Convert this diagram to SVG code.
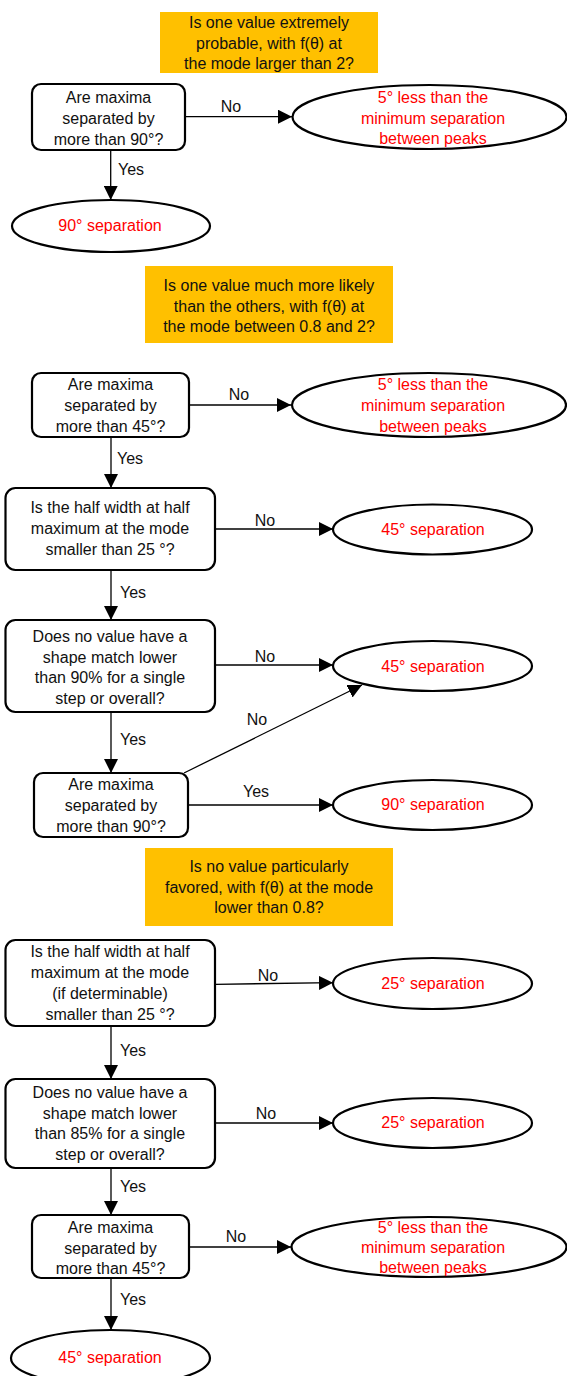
<svg xmlns="http://www.w3.org/2000/svg" width="567" height="1376" viewBox="0 0 567 1376">
<style>
  text { font-family: "Liberation Sans", Arial, sans-serif; font-size: 16px; text-anchor: middle; }
  .q { fill: #111; }
  .r { fill: #ff0000; }
  .lbl { fill: #111; }
  .hdr { fill: #ffc000; stroke: none; }
  .box { fill: #fff; stroke: #000; stroke-width: 2.2; }
  .ell { fill: #fff; stroke: #000; stroke-width: 2.2; }
  .c { fill: none; stroke: #000; stroke-width: 1.3; marker-end: url(#ah); }
</style>
<defs>
  <marker id="ah" markerUnits="userSpaceOnUse" markerWidth="14" markerHeight="14" refX="14" refY="7" orient="auto">
    <path d="M0,0 L14,7 L0,14 Z" fill="#000"/>
  </marker>
</defs>
<rect width="567" height="1376" fill="#fff"/>

<g id="connectors">
  <path class="c" d="M185,116.7 L292,116.7"/>
  <path class="c" d="M110.7,150 L110.7,200"/>
  <path class="c" d="M189,405 L291,405"/>
  <path class="c" d="M111,437 L111,488"/>
  <path class="c" d="M215,529 L333,529"/>
  <path class="c" d="M111,570 L111,620"/>
  <path class="c" d="M215,665 L333,665"/>
  <path class="c" d="M184,773 L362,685"/>
  <path class="c" d="M111,712 L111,773"/>
  <path class="c" d="M188,805 L333,805"/>
  <path class="c" d="M215,984.3 L333,982.7"/>
  <path class="c" d="M111,1026 L111,1079"/>
  <path class="c" d="M215,1123 L333,1123"/>
  <path class="c" d="M111,1168 L111,1215"/>
  <path class="c" d="M189,1247 L291,1247"/>
  <path class="c" d="M111,1278 L111,1330"/>
  <g class="lbl">
    <text x="231" y="112">No</text>
    <text x="131" y="175">Yes</text>
    <text x="239" y="400">No</text>
    <text x="130" y="464">Yes</text>
    <text x="265" y="526">No</text>
    <text x="133" y="598">Yes</text>
    <text x="265" y="662">No</text>
    <text x="257" y="725">No</text>
    <text x="133" y="745">Yes</text>
    <text x="256" y="797">Yes</text>
    <text x="268" y="981">No</text>
    <text x="133" y="1056">Yes</text>
    <text x="266" y="1119">No</text>
    <text x="133" y="1192">Yes</text>
    <text x="236" y="1242">No</text>
    <text x="133" y="1305">Yes</text>
  </g>
</g>

<g id="header1">
  <rect class="hdr" x="160" y="12" width="218" height="61"/>
  <text class="q" x="269" y="28">Is one value extremely</text>
  <text class="q" x="269" y="48.5">probable, with f(θ) at</text>
  <text class="q" x="269" y="69">the mode larger than 2?</text>
</g>
<g id="q1">
  <rect class="box" x="32" y="84" width="153" height="66" rx="9"/>
  <text class="q" x="108.5" y="103">Are maxima</text>
  <text class="q" x="108.5" y="124">separated by</text>
  <text class="q" x="108.5" y="145">more than 90°?</text>
</g>
<g id="r1">
  <ellipse class="ell" cx="429.5" cy="117" rx="137" ry="32"/>
  <text class="r" x="433" y="103">5° less than the</text>
  <text class="r" x="433" y="124">minimum separation</text>
  <text class="r" x="433" y="144">between peaks</text>
</g>
<g id="r2">
  <ellipse class="ell" cx="111" cy="226" rx="99" ry="26"/>
  <text class="r" x="110" y="231">90° separation</text>
</g>

<g id="header2">
  <rect class="hdr" x="145" y="266" width="248" height="77"/>
  <text class="q" x="269" y="291">Is one value much more likely</text>
  <text class="q" x="269" y="312">than the others, with f(θ) at</text>
  <text class="q" x="269" y="332">the mode between 0.8 and 2?</text>
</g>
<g id="q2">
  <rect class="box" x="32" y="373" width="157" height="64" rx="9"/>
  <text class="q" x="110.5" y="390">Are maxima</text>
  <text class="q" x="110.5" y="411">separated by</text>
  <text class="q" x="110.5" y="432">more than 45°?</text>
</g>
<g id="r3">
  <ellipse class="ell" cx="429" cy="405" rx="137" ry="32"/>
  <text class="r" x="433" y="390">5° less than the</text>
  <text class="r" x="433" y="411">minimum separation</text>
  <text class="r" x="433" y="432">between peaks</text>
</g>
<g id="q3">
  <rect class="box" x="5.5" y="488" width="209.5" height="82" rx="10"/>
  <text class="q" x="110" y="513">Is the half width at half</text>
  <text class="q" x="110" y="534">maximum at the mode</text>
  <text class="q" x="110" y="555">smaller than 25 °?</text>
</g>
<g id="r4">
  <ellipse class="ell" cx="432.5" cy="529.5" rx="99.5" ry="25"/>
  <text class="r" x="433" y="535">45° separation</text>
</g>
<g id="q4">
  <rect class="box" x="5.5" y="620" width="209.5" height="92" rx="10"/>
  <text class="q" x="110" y="641.5">Does no value have a</text>
  <text class="q" x="110" y="662.5">shape match lower</text>
  <text class="q" x="110" y="683">than 90% for a single</text>
  <text class="q" x="110" y="703.5">step or overall?</text>
</g>
<g id="r5">
  <ellipse class="ell" cx="432.5" cy="666" rx="99.5" ry="25"/>
  <text class="r" x="433" y="671.5">45° separation</text>
</g>
<g id="q5">
  <rect class="box" x="34" y="773" width="154" height="64" rx="9"/>
  <text class="q" x="111" y="790">Are maxima</text>
  <text class="q" x="111" y="811">separated by</text>
  <text class="q" x="111" y="832">more than 90°?</text>
</g>
<g id="r6">
  <ellipse class="ell" cx="432.5" cy="805" rx="99.5" ry="25"/>
  <text class="r" x="433" y="810">90° separation</text>
</g>

<g id="header3">
  <rect class="hdr" x="145" y="848" width="248" height="78"/>
  <text class="q" x="269" y="872">Is no value particularly</text>
  <text class="q" x="269" y="892.5">favored, with f(θ) at the mode</text>
  <text class="q" x="269" y="913">lower than 0.8?</text>
</g>
<g id="q6">
  <rect class="box" x="5.5" y="940" width="209.5" height="86" rx="10"/>
  <text class="q" x="110" y="957">Is the half width at half</text>
  <text class="q" x="110" y="978">maximum at the mode</text>
  <text class="q" x="110" y="999">(if determinable)</text>
  <text class="q" x="110" y="1020">smaller than 25 °?</text>
</g>
<g id="r7">
  <ellipse class="ell" cx="432.5" cy="983.5" rx="99.5" ry="25.5"/>
  <text class="r" x="433" y="989">25° separation</text>
</g>
<g id="q7">
  <rect class="box" x="5.5" y="1079" width="209.5" height="89" rx="10"/>
  <text class="q" x="110" y="1098">Does no value have a</text>
  <text class="q" x="110" y="1118.5">shape match lower</text>
  <text class="q" x="110" y="1139">than 85% for a single</text>
  <text class="q" x="110" y="1160">step or overall?</text>
</g>
<g id="r8">
  <ellipse class="ell" cx="432.5" cy="1123" rx="99.5" ry="25"/>
  <text class="r" x="433" y="1128">25° separation</text>
</g>
<g id="q8">
  <rect class="box" x="32" y="1215" width="157" height="63" rx="9"/>
  <text class="q" x="110.5" y="1233">Are maxima</text>
  <text class="q" x="110.5" y="1253.5">separated by</text>
  <text class="q" x="110.5" y="1274">more than 45°?</text>
</g>
<g id="r9">
  <ellipse class="ell" cx="429" cy="1247" rx="137.5" ry="30"/>
  <text class="r" x="433" y="1233">5° less than the</text>
  <text class="r" x="433" y="1253">minimum separation</text>
  <text class="r" x="433" y="1273">between peaks</text>
</g>
<g id="r10">
  <ellipse class="ell" cx="110.5" cy="1358" rx="99.5" ry="28"/>
  <text class="r" x="110" y="1363">45° separation</text>
</g>
</svg>
